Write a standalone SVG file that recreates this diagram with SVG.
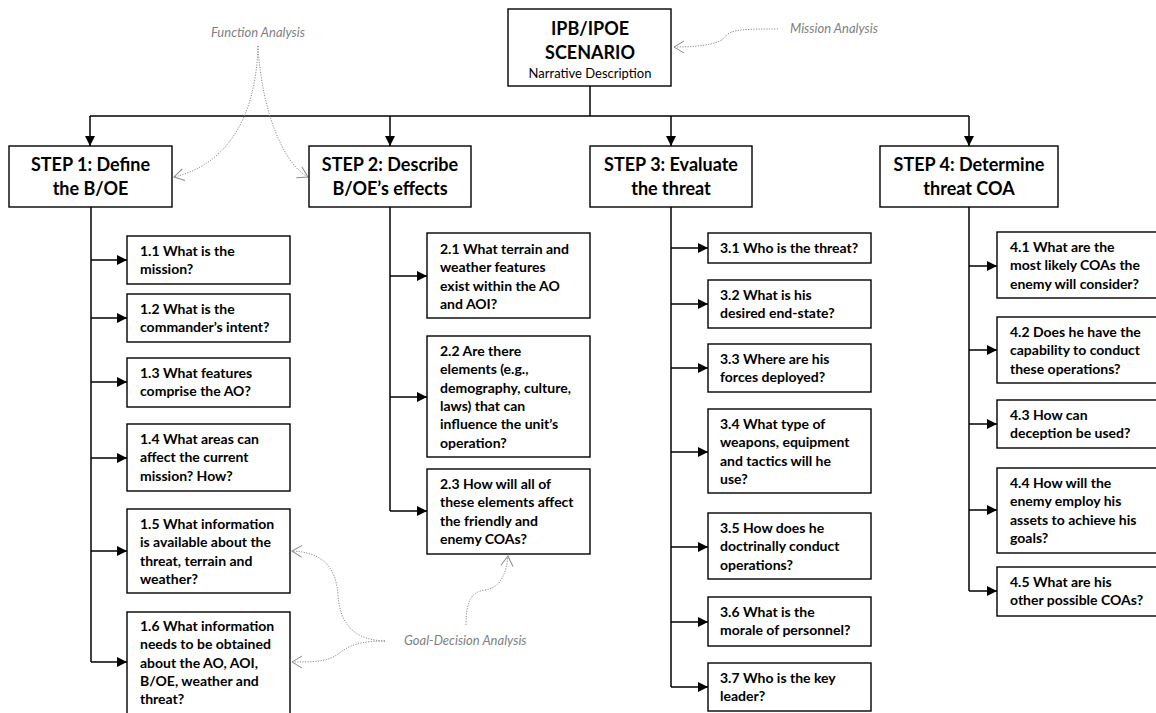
<svg xmlns="http://www.w3.org/2000/svg" width="1156" height="713" viewBox="0 0 1156 713">
<style>
  .box { fill: #ffffff; stroke: #000000; stroke-width: 1.4; }
  .line { fill: none; stroke: #000000; stroke-width: 1.5; }
  .dot { fill: none; stroke: #8c8c8c; stroke-width: 1; stroke-dasharray: 1.2 1.4; }
  .step { font-family: Lato, "Open Sans", sans-serif; font-weight: bold; font-size: 18px; fill: #000; text-anchor: middle; }
  .q { font-family: Lato, "Open Sans", sans-serif; font-weight: bold; font-size: 14px; fill: #000; }
  .sub { font-family: Lato, "Open Sans", sans-serif; font-size: 13px; fill: #000; text-anchor: middle; }
  .note { font-family: Lato, "Open Sans", sans-serif; font-style: italic; font-size: 13px; fill: #7f7f7f; }
</style>
<defs>
  <marker id="arr" markerUnits="userSpaceOnUse" markerWidth="10" markerHeight="10" refX="10" refY="5" orient="auto">
    <path d="M0,0 L10,5 L0,10 z" fill="#000"/>
  </marker>
  <marker id="open" markerUnits="userSpaceOnUse" markerWidth="12" markerHeight="14" refX="11" refY="7" orient="auto">
    <path d="M1,1 L11,7 L1,13" fill="none" stroke="#8c8c8c" stroke-width="1"/>
  </marker>
</defs>

<g id="connectors">
  <path class="line" d="M590,86 V116"/>
  <path class="line" d="M90,116 H969"/>
  <path class="line" d="M90,116 V146" marker-end="url(#arr)"/>
  <path class="line" d="M390,116 V146" marker-end="url(#arr)"/>
  <path class="line" d="M671,116 V146" marker-end="url(#arr)"/>
  <path class="line" d="M969,116 V146" marker-end="url(#arr)"/>

  <path class="line" d="M91,207 V662"/>
  <path class="line" d="M91,260 H127" marker-end="url(#arr)"/>
  <path class="line" d="M91,318 H127" marker-end="url(#arr)"/>
  <path class="line" d="M91,382 H127" marker-end="url(#arr)"/>
  <path class="line" d="M91,458 H127" marker-end="url(#arr)"/>
  <path class="line" d="M91,551 H127" marker-end="url(#arr)"/>
  <path class="line" d="M91,662 H127" marker-end="url(#arr)"/>

  <path class="line" d="M390,207 V511"/>
  <path class="line" d="M390,276 H427" marker-end="url(#arr)"/>
  <path class="line" d="M390,397 H427" marker-end="url(#arr)"/>
  <path class="line" d="M390,511 H427" marker-end="url(#arr)"/>

  <path class="line" d="M671,207 V687"/>
  <path class="line" d="M671,248 H708" marker-end="url(#arr)"/>
  <path class="line" d="M671,304 H708" marker-end="url(#arr)"/>
  <path class="line" d="M671,368 H708" marker-end="url(#arr)"/>
  <path class="line" d="M671,452 H708" marker-end="url(#arr)"/>
  <path class="line" d="M671,547 H708" marker-end="url(#arr)"/>
  <path class="line" d="M671,622 H708" marker-end="url(#arr)"/>
  <path class="line" d="M671,687 H708" marker-end="url(#arr)"/>

  <path class="line" d="M969,207 V591"/>
  <path class="line" d="M969,266 H997" marker-end="url(#arr)"/>
  <path class="line" d="M969,350 H997" marker-end="url(#arr)"/>
  <path class="line" d="M969,424 H997" marker-end="url(#arr)"/>
  <path class="line" d="M969,510 H997" marker-end="url(#arr)"/>
  <path class="line" d="M969,591 H997" marker-end="url(#arr)"/>

  <path class="dot" d="M258,46 C256,120 225,165 174,177" marker-end="url(#open)"/>
  <path class="dot" d="M258,46 C262,115 285,165 308,177" marker-end="url(#open)"/>
  <path class="dot" d="M778,29 C750,29 730,29 726,36 C722,43 705,47 674,47" marker-end="url(#open)"/>
  <path class="dot" d="M385,641 C355,640 340,625 338,595 C336,565 320,552 292,551" marker-end="url(#open)"/>
  <path class="dot" d="M385,641 C350,641 345,650 335,656 C325,662 310,662 292,662" marker-end="url(#open)"/>
  <path class="dot" d="M466,625 C466,600 472,592 485,590 C500,588 506,575 508,556" marker-end="url(#open)"/>
</g>

<g id="notes">
  <text class="note" x="258" y="37" text-anchor="middle">Function Analysis</text>
  <text class="note" x="790" y="33">Mission Analysis</text>
  <text class="note" x="404" y="645">Goal-Decision Analysis</text>
</g>

<g id="scenario">
  <rect class="box" x="508" y="9" width="163" height="77"/>
  <text class="step" x="590" y="35">IPB/IPOE</text>
  <text class="step" x="590" y="59">SCENARIO</text>
  <text class="sub" x="590" y="78">Narrative Description</text>
</g>

<g id="step1">
  <rect class="box" x="9" y="146" width="163" height="61"/>
  <text class="step" x="90.5" y="171">STEP 1: Define</text>
  <text class="step" x="90.5" y="195">the B/OE</text>
</g>
<g id="step2">
  <rect class="box" x="309" y="146" width="162" height="61"/>
  <text class="step" x="390" y="171">STEP 2: Describe</text>
  <text class="step" x="390" y="195">B/OE’s effects</text>
</g>
<g id="step3">
  <rect class="box" x="590" y="146" width="162" height="61"/>
  <text class="step" x="671" y="171">STEP 3: Evaluate</text>
  <text class="step" x="671" y="195">the threat</text>
</g>
<g id="step4">
  <rect class="box" x="880" y="146" width="178" height="61"/>
  <text class="step" x="969" y="171">STEP 4: Determine</text>
  <text class="step" x="969" y="195">threat COA</text>
</g>

<g id="q1-1"><rect class="box" x="127" y="236" width="163" height="48"/>
  <text class="q" x="140" y="256"><tspan x="140">1.1 What is the</tspan><tspan x="140" dy="18.3">mission?</tspan></text></g>
<g id="q1-2"><rect class="box" x="127" y="294" width="163" height="48"/>
  <text class="q" x="140" y="314"><tspan x="140">1.2 What is the</tspan><tspan x="140" dy="18.3">commander’s intent?</tspan></text></g>
<g id="q1-3"><rect class="box" x="127" y="358" width="163" height="49"/>
  <text class="q" x="140" y="378"><tspan x="140">1.3 What features</tspan><tspan x="140" dy="18.3">comprise the AO?</tspan></text></g>
<g id="q1-4"><rect class="box" x="127" y="424" width="163" height="67"/>
  <text class="q" x="140" y="444"><tspan x="140">1.4 What areas can</tspan><tspan x="140" dy="18.3">affect the current</tspan><tspan x="140" dy="18.3">mission? How?</tspan></text></g>
<g id="q1-5"><rect class="box" x="127" y="509" width="163" height="84"/>
  <text class="q" x="140" y="529"><tspan x="140">1.5 What information</tspan><tspan x="140" dy="18.3">is available about the</tspan><tspan x="140" dy="18.3">threat, terrain and</tspan><tspan x="140" dy="18.3">weather?</tspan></text></g>
<g id="q1-6"><rect class="box" x="127" y="612" width="163" height="110"/>
  <text class="q" x="140" y="631"><tspan x="140">1.6 What information</tspan><tspan x="140" dy="18.3">needs to be obtained</tspan><tspan x="140" dy="18.3">about the AO, AOI,</tspan><tspan x="140" dy="18.3">B/OE, weather and</tspan><tspan x="140" dy="18.3">threat?</tspan></text></g>

<g id="q2-1"><rect class="box" x="427" y="233" width="163" height="85"/>
  <text class="q" x="440" y="254"><tspan x="440">2.1 What terrain and</tspan><tspan x="440" dy="18.3">weather features</tspan><tspan x="440" dy="18.3">exist within the AO</tspan><tspan x="440" dy="18.3">and AOI?</tspan></text></g>
<g id="q2-2"><rect class="box" x="427" y="336" width="163" height="121"/>
  <text class="q" x="440" y="356"><tspan x="440">2.2 Are there</tspan><tspan x="440" dy="18.3">elements (e.g.,</tspan><tspan x="440" dy="18.3">demography, culture,</tspan><tspan x="440" dy="18.3">laws) that can</tspan><tspan x="440" dy="18.3">influence the unit’s</tspan><tspan x="440" dy="18.3">operation?</tspan></text></g>
<g id="q2-3"><rect class="box" x="427" y="469" width="163" height="85"/>
  <text class="q" x="440" y="489"><tspan x="440">2.3 How will all of</tspan><tspan x="440" dy="18.3">these elements affect</tspan><tspan x="440" dy="18.3">the friendly and</tspan><tspan x="440" dy="18.3">enemy COAs?</tspan></text></g>

<g id="q3-1"><rect class="box" x="708" y="233" width="163" height="30"/>
  <text class="q" x="720" y="253"><tspan x="720">3.1 Who is the threat?</tspan></text></g>
<g id="q3-2"><rect class="box" x="708" y="280" width="163" height="48"/>
  <text class="q" x="720" y="300"><tspan x="720">3.2 What is his</tspan><tspan x="720" dy="18.3">desired end-state?</tspan></text></g>
<g id="q3-3"><rect class="box" x="708" y="344" width="163" height="48"/>
  <text class="q" x="720" y="364"><tspan x="720">3.3 Where are his</tspan><tspan x="720" dy="18.3">forces deployed?</tspan></text></g>
<g id="q3-4"><rect class="box" x="708" y="409" width="163" height="84"/>
  <text class="q" x="720" y="429"><tspan x="720">3.4 What type of</tspan><tspan x="720" dy="18.3">weapons, equipment</tspan><tspan x="720" dy="18.3">and tactics will he</tspan><tspan x="720" dy="18.3">use?</tspan></text></g>
<g id="q3-5"><rect class="box" x="708" y="513" width="163" height="66"/>
  <text class="q" x="720" y="533"><tspan x="720">3.5 How does he</tspan><tspan x="720" dy="18.3">doctrinally conduct</tspan><tspan x="720" dy="18.3">operations?</tspan></text></g>
<g id="q3-6"><rect class="box" x="708" y="597" width="163" height="49"/>
  <text class="q" x="720" y="617"><tspan x="720">3.6 What is the</tspan><tspan x="720" dy="18.3">morale of personnel?</tspan></text></g>
<g id="q3-7"><rect class="box" x="708" y="663" width="163" height="48"/>
  <text class="q" x="720" y="683"><tspan x="720">3.7 Who is the key</tspan><tspan x="720" dy="18.3">leader?</tspan></text></g>

<g id="q4-1"><rect class="box" x="997" y="232" width="165" height="66"/>
  <text class="q" x="1010" y="252"><tspan x="1010">4.1 What are the</tspan><tspan x="1010" dy="18.3">most likely COAs the</tspan><tspan x="1010" dy="18.3">enemy will consider?</tspan></text></g>
<g id="q4-2"><rect class="box" x="997" y="317" width="165" height="66"/>
  <text class="q" x="1010" y="337"><tspan x="1010">4.2 Does he have the</tspan><tspan x="1010" dy="18.3">capability to conduct</tspan><tspan x="1010" dy="18.3">these operations?</tspan></text></g>
<g id="q4-3"><rect class="box" x="997" y="400" width="165" height="48"/>
  <text class="q" x="1010" y="420"><tspan x="1010">4.3 How can</tspan><tspan x="1010" dy="18.3">deception be used?</tspan></text></g>
<g id="q4-4"><rect class="box" x="997" y="468" width="165" height="85"/>
  <text class="q" x="1010" y="488"><tspan x="1010">4.4 How will the</tspan><tspan x="1010" dy="18.3">enemy employ his</tspan><tspan x="1010" dy="18.3">assets to achieve his</tspan><tspan x="1010" dy="18.3">goals?</tspan></text></g>
<g id="q4-5"><rect class="box" x="997" y="567" width="165" height="49"/>
  <text class="q" x="1010" y="587"><tspan x="1010">4.5 What are his</tspan><tspan x="1010" dy="18.3">other possible COAs?</tspan></text></g>
</svg>
